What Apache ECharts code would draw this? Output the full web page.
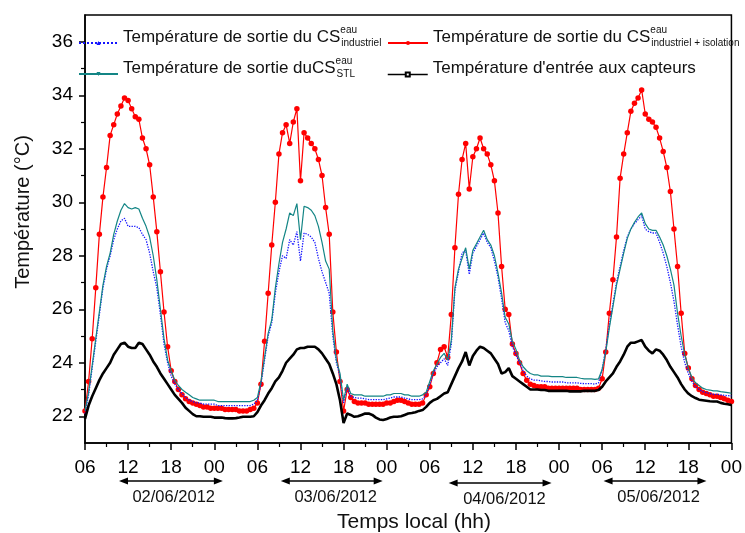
<!DOCTYPE html>
<html><head><meta charset="utf-8">
<script src="https://cdn.jsdelivr.net/npm/echarts@6/dist/echarts.min.js"></script>
<style>html,body{margin:0;padding:0;background:#fff}#c{width:745px;height:533px}</style>
</head><body><div id="c"></div>
<script>
// ---- data (sampled every 0.5 h from 06:00 on day 1) ----
const sampleStep = 0.5;
const xTickLabels = ['06', '12', '18', '00'];
const yTickValues = [22, 24, 26, 28, 30, 32, 34, 36];
const yMinorValues = [23, 25, 27, 29, 31, 33, 35];

const blueVals = [
 22.1, 22.8, 23.8, 24.8, 25.8, 26.8, 27.5, 28.0, 28.6, 29.0, 29.3, 29.4,
 29.1, 29.1, 29.1, 29.05, 28.8, 28.6, 28.1, 27.4, 26.8, 25.8, 24.7, 24.0,
 23.5, 23.2, 23.0, 22.85, 22.7, 22.6, 22.55, 22.5, 22.5, 22.45, 22.45, 22.45,
 22.45, 22.4, 22.4, 22.4, 22.4, 22.4, 22.4, 22.4, 22.4, 22.4, 22.4, 22.45,
 22.6, 23.2, 24.1, 25.0, 25.5, 26.6, 27.4, 28.0, 27.9, 28.6, 28.4, 28.9,
 27.8, 28.85, 28.8, 28.7, 28.5, 27.9, 27.4, 27.0, 26.6, 25.0, 24.0, 23.5,
 22.5, 23.1, 22.75, 22.7, 22.68, 22.68, 22.65, 22.62, 22.62, 22.62, 22.62, 22.62,
 22.65, 22.68, 22.72, 22.72, 22.72, 22.68, 22.65, 22.62, 22.62, 22.62, 22.65, 22.8,
 23.2, 23.6, 23.85, 24.0, 24.15, 23.9, 24.7, 26.7, 27.4, 28.1, 28.2, 27.3,
 28.1, 28.35, 28.6, 28.85, 28.5, 28.3, 27.8, 27.2, 26.4, 25.5, 25.2, 24.6,
 24.3, 24.0, 23.7, 23.5, 23.4, 23.35, 23.35, 23.32, 23.3, 23.3, 23.28, 23.28,
 23.28, 23.28, 23.25, 23.25, 23.25, 23.25, 23.23, 23.22, 23.22, 23.22, 23.2, 23.25,
 23.75, 24.5, 25.4, 26.2, 27.0, 27.6, 28.2, 28.7, 29.0, 29.2, 29.35, 29.5,
 29.0, 28.9, 28.85, 28.85, 28.5, 28.1, 27.6, 27.0, 26.3, 25.4, 24.6, 24.0,
 23.6, 23.3, 23.1, 23.0, 22.92, 22.88, 22.85, 22.82, 22.82, 22.8, 22.78, 22.77,
 22.76
];
const redVals = [
 22.2, 23.3, 24.9, 26.8, 28.8, 30.2, 31.3, 32.5, 32.9, 33.3, 33.6, 33.9,
 33.8, 33.5, 33.2, 33.1, 32.4, 32.0, 31.4, 30.2, 28.9, 27.4, 25.9, 24.6,
 23.7, 23.3, 23.0, 22.8, 22.65, 22.55, 22.5, 22.45, 22.4, 22.35, 22.35, 22.3,
 22.3, 22.3, 22.3, 22.25, 22.25, 22.25, 22.25, 22.2, 22.2, 22.2, 22.25, 22.3,
 22.5, 23.2, 24.8, 26.6, 28.4, 30.0, 31.8, 32.6, 32.9, 32.2, 33.0, 33.5,
 30.8, 32.6, 32.4, 32.2, 32.0, 31.6, 31.0, 29.8, 28.8, 25.9, 24.4, 23.3,
 22.2, 23.0, 22.7, 22.55, 22.5, 22.5, 22.5, 22.45, 22.45, 22.45, 22.45, 22.45,
 22.5, 22.5, 22.55, 22.6, 22.6, 22.55, 22.5, 22.45, 22.45, 22.45, 22.5, 22.8,
 23.1, 23.6, 24.0, 24.5, 24.6, 24.2, 25.8, 28.3, 30.3, 31.6, 32.2, 30.5,
 31.7, 32.0, 32.4, 32.0, 31.8, 31.4, 30.8, 29.6, 27.6, 26.0, 25.8, 24.7,
 24.35, 24.0, 23.6, 23.35, 23.2, 23.15, 23.1, 23.1, 23.1, 23.05, 23.05, 23.05,
 23.05, 23.05, 23.05, 23.05, 23.05, 23.05, 23.0, 23.0, 23.0, 23.0, 23.0, 23.05,
 23.4, 24.4, 25.85, 27.1, 28.7, 30.9, 31.8, 32.6, 33.4, 33.7, 33.9, 34.2,
 33.3, 33.1, 33.0, 32.8, 32.4, 31.9, 31.3, 30.4, 29.0, 27.6, 25.85, 24.35,
 23.8, 23.4, 23.15, 23.0, 22.9, 22.85, 22.8, 22.75, 22.75, 22.7, 22.65, 22.6,
 22.55
];
const tealVals = [
 22.2, 22.9, 23.9, 24.9, 25.9, 26.9, 27.6, 28.1, 28.8, 29.3, 29.7, 29.95,
 29.8, 29.75, 29.8, 29.75, 29.4, 29.1, 28.7, 28.0, 27.1, 26.0, 24.9, 24.1,
 23.7, 23.35, 23.15, 23.0, 22.9, 22.8, 22.7, 22.65, 22.6, 22.6, 22.6, 22.6,
 22.6, 22.55, 22.55, 22.55, 22.55, 22.55, 22.55, 22.55, 22.55, 22.55, 22.55, 22.6,
 22.7, 23.3, 24.2, 25.1, 25.6, 26.8, 27.7, 28.5, 29.0, 29.6, 29.5, 29.95,
 28.6, 29.85, 29.8, 29.7, 29.5, 29.1, 28.5, 27.8, 27.5, 25.2, 24.1, 23.6,
 22.6, 23.2, 22.85, 22.8, 22.8, 22.8, 22.75, 22.75, 22.75, 22.75, 22.75, 22.75,
 22.8, 22.8, 22.85, 22.85, 22.85, 22.8, 22.8, 22.75, 22.75, 22.75, 22.8, 22.9,
 23.3, 23.7, 23.95, 24.2, 24.35, 24.1, 24.85, 26.8, 27.5, 27.9, 28.3, 27.5,
 28.2, 28.45, 28.7, 28.95, 28.6, 28.4, 28.0, 27.35, 26.6, 25.7, 25.45, 24.8,
 24.5, 24.1, 23.85, 23.7, 23.6, 23.55, 23.55, 23.5, 23.5, 23.5, 23.48, 23.48,
 23.48, 23.48, 23.45, 23.45, 23.45, 23.45, 23.42, 23.4, 23.4, 23.4, 23.38, 23.4,
 23.75, 24.4, 25.3, 26.1, 26.9, 27.5, 28.1, 28.65, 29.0, 29.25, 29.45, 29.6,
 29.2, 29.0, 28.95, 28.95, 28.7, 28.4, 28.0, 27.5, 26.9, 25.85, 25.0, 24.3,
 23.8, 23.45, 23.25, 23.15, 23.05, 23.0, 22.98, 22.95, 22.95, 22.92, 22.9, 22.88,
 22.86
];
const blackVals = [
 21.9, 22.4, 22.75, 23.05, 23.35, 23.6, 23.8, 24.0, 24.3, 24.5, 24.7, 24.75,
 24.6, 24.55, 24.55, 24.75, 24.7, 24.5, 24.3, 24.05, 23.85, 23.6, 23.4, 23.2,
 23.0, 22.8, 22.65, 22.5, 22.32, 22.2, 22.08, 22.0, 22.0, 21.98, 21.98, 21.98,
 21.95, 21.95, 21.95, 21.93, 21.92, 21.92, 21.93, 21.95, 21.98, 21.98, 21.98, 22.0,
 22.15, 22.4, 22.6, 22.85, 23.05, 23.3, 23.45, 23.7, 24.0, 24.15, 24.3, 24.5,
 24.55, 24.55, 24.6, 24.6, 24.6, 24.5, 24.35, 24.15, 23.95, 23.6, 23.2, 22.6,
 21.75, 22.1, 22.05, 21.98, 22.0, 22.05, 22.1, 22.1, 22.05, 21.95, 21.88, 21.86,
 21.9, 21.95, 21.98, 21.98, 22.0, 22.05, 22.1, 22.12, 22.15, 22.2, 22.23, 22.35,
 22.5, 22.6, 22.65, 22.75, 22.85, 22.9, 23.2, 23.5, 23.8, 24.05, 24.4, 23.9,
 24.25, 24.45, 24.6, 24.55, 24.45, 24.35, 24.15, 23.95, 23.6, 23.65, 23.8, 23.5,
 23.4, 23.3, 23.2, 23.1, 23.0, 23.0, 23.0, 22.98, 22.98, 22.95, 22.95, 22.95,
 22.95, 22.95, 22.95, 22.93, 22.93, 22.93, 22.93, 22.95, 22.95, 22.95, 22.95, 22.98,
 23.1, 23.3, 23.45, 23.6, 23.85, 24.05, 24.3, 24.6, 24.75, 24.75, 24.8, 24.85,
 24.6, 24.45, 24.35, 24.5, 24.45, 24.3, 24.1, 23.85, 23.65, 23.45, 23.2, 23.0,
 22.85, 22.75, 22.68, 22.62, 22.6, 22.58, 22.56, 22.55, 22.55, 22.5, 22.47, 22.45,
 22.42
];

const seriesMain = ['Température de sortie du CS', 'Température de sortie du CS', 'Température de sortie duCS', "Température d'entrée aux capteurs"];
const seriesSup = ['eau', 'eau', 'eau', ''];
const seriesSub = ['industriel', 'industriel + isolation', 'STL', ''];
const dateLabels = ['02/06/2012', '03/06/2012', '04/06/2012', '05/06/2012'];
const dateArrowStart = [4.73, 27.26, 50.63, 72.2];   // hours since 06:00 day 1
const dateArrowEnd = [19.2, 41.45, 64.96, 86.52];
const dateLabelCenter = [12.35, 34.9, 58.4, 79.85];

// ---- build ----
const FONT = 'Liberation Sans, Arial, sans-serif';
const names = seriesMain.map((m, i) => (m + ' ' + seriesSup[i] + ' ' + seriesSub[i]).trim());
const toPairs = vals => vals.map((v, i) => [i * sampleStep, v]);

const richLegend = {
  m: {fontSize: 17, lineHeight: 40, padding: [0, 0, 12, 0], color: '#111', fontFamily: FONT},
  sup: {fontSize: 10, lineHeight: 14, verticalAlign: 'top', padding: [2, 0, 0, 0], width: 1, color: '#111', fontFamily: FONT},
  sub: {fontSize: 10, lineHeight: 14, verticalAlign: 'top', padding: [15, 0, 0, 0], color: '#111', fontFamily: FONT}
};
function legendFmt(name) {
  const i = names.indexOf(name);
  let s = '{m|' + seriesMain[i] + '}';
  if (seriesSup[i]) s += '{sup|' + seriesSup[i] + '}';
  if (seriesSub[i]) s += '{sub|' + seriesSub[i] + '}';
  return s;
}
function mkLegend(i, left, top, w, extra) {
  return Object.assign({
    data: [names[i]], left: left, top: top, padding: 0, itemWidth: w, itemHeight: 5,
    selectedMode: false, formatter: legendFmt,
    textStyle: {rich: richLegend, fontFamily: FONT, fontSize: 17, color: '#111'}
  }, extra || {});
}

const axisBlack = {color: '#000', width: 1.5};
const option = {
  animation: false,
  backgroundColor: '#fff',
  grid: {left: 85, right: 12, top: 15, bottom: 90, show: true, borderColor: '#000', borderWidth: 1.5, backgroundColor: 'transparent'},
  legend: [
    mkLegend(0, 78, 23, 39),
    mkLegend(1, 387, 23, 40),
    mkLegend(2, 78, 54, 39),
    mkLegend(3, 387, 60, 40, {lineStyle: {width: 1.5}})
  ],
  xAxis: {
    type: 'value', min: 0, max: 90, interval: 6,
    axisLine: {lineStyle: axisBlack},
    axisTick: {length: 7, lineStyle: axisBlack},
    minorTick: {show: true, splitNumber: 2, length: 4, lineStyle: {color: '#000', width: 1.2}},
    splitLine: {show: false},
    axisLabel: {formatter: v => xTickLabels[Math.round(v / 6) % 4], fontSize: 19, color: '#000', fontFamily: FONT, margin: 15}
  },
  yAxis: [{
    type: 'value', min: 21, max: 37, position: 'left',
    axisLine: {show: true, lineStyle: axisBlack},
    axisTick: {show: true, customValues: yTickValues, length: 6, lineStyle: axisBlack},
    axisLabel: {customValues: yTickValues, fontSize: 19, color: '#000', fontFamily: FONT, margin: 12},
    splitLine: {show: false}
  }, {
    type: 'value', min: 21, max: 37, position: 'left',
    axisLine: {show: false},
    axisTick: {show: true, customValues: yMinorValues, length: 4, lineStyle: {color: '#000', width: 1.2}},
    axisLabel: {show: false},
    splitLine: {show: false}
  }],
  series: [
    {name: names[1], type: 'line', data: toPairs(redVals), symbol: 'circle', symbolSize: 5.5, showSymbol: true,
     lineStyle: {color: '#ff0000', width: 1.2}, itemStyle: {color: '#ff0000'}, z: 2},
    {name: names[0], type: 'line', data: toPairs(blueVals), symbol: 'triangle', symbolSize: 5, showSymbol: false,
     lineStyle: {color: '#1414ff', width: 1.3, type: 'dotted'}, itemStyle: {color: '#1414ff'}, z: 3},
    {name: names[2], type: 'line', data: toPairs(tealVals), symbol: 'triangle', symbolRotate: 180, symbolSize: 5, showSymbol: false,
     lineStyle: {color: '#138585', width: 1.2}, itemStyle: {color: '#138585'}, z: 4},
    {name: names[3], type: 'line', data: toPairs(blackVals), symbol: 'emptyRect', symbolSize: 4, showSymbol: false,
     lineStyle: {color: '#000', width: 2.6}, itemStyle: {color: '#000'}, z: 5}
  ]
};

const chart = echarts.init(document.getElementById('c'), null, {renderer: 'canvas', width: 745, height: 533});
chart.setOption(option);

const g = [];
const arrowY = [481, 481, 483, 481];
const labelY = [497, 497, 499, 497];
dateLabels.forEach((lab, i) => {
  const x1 = chart.convertToPixel({xAxisIndex: 0}, dateArrowStart[i]);
  const x2 = chart.convertToPixel({xAxisIndex: 0}, dateArrowEnd[i]);
  const xc = chart.convertToPixel({xAxisIndex: 0}, dateLabelCenter[i]);
  const y = arrowY[i];
  g.push({type: 'line', shape: {x1: x1 + 6, y1: y, x2: x2 - 6, y2: y}, style: {stroke: '#000', lineWidth: 1.5}});
  g.push({type: 'polygon', shape: {points: [[x1, y], [x1 + 9, y - 3.5], [x1 + 9, y + 3.5]]}, style: {fill: '#000'}});
  g.push({type: 'polygon', shape: {points: [[x2, y], [x2 - 9, y - 3.5], [x2 - 9, y + 3.5]]}, style: {fill: '#000'}});
  g.push({type: 'text', x: xc, y: labelY[i], style: {text: lab, font: '16.5px ' + FONT, fill: '#111', textAlign: 'center', textVerticalAlign: 'middle'}});
});
g.push({type: 'text', x: 23, y: 212, rotation: Math.PI / 2, style: {text: 'Température (°C)', font: '20px ' + FONT, fill: '#111', textAlign: 'center', textVerticalAlign: 'middle'}});
g.push({type: 'text', x: 414, y: 522, style: {text: 'Temps local (hh)', font: '21px ' + FONT, fill: '#111', textAlign: 'center', textVerticalAlign: 'middle'}});
chart.setOption({graphic: g});
</script>
</body></html>
